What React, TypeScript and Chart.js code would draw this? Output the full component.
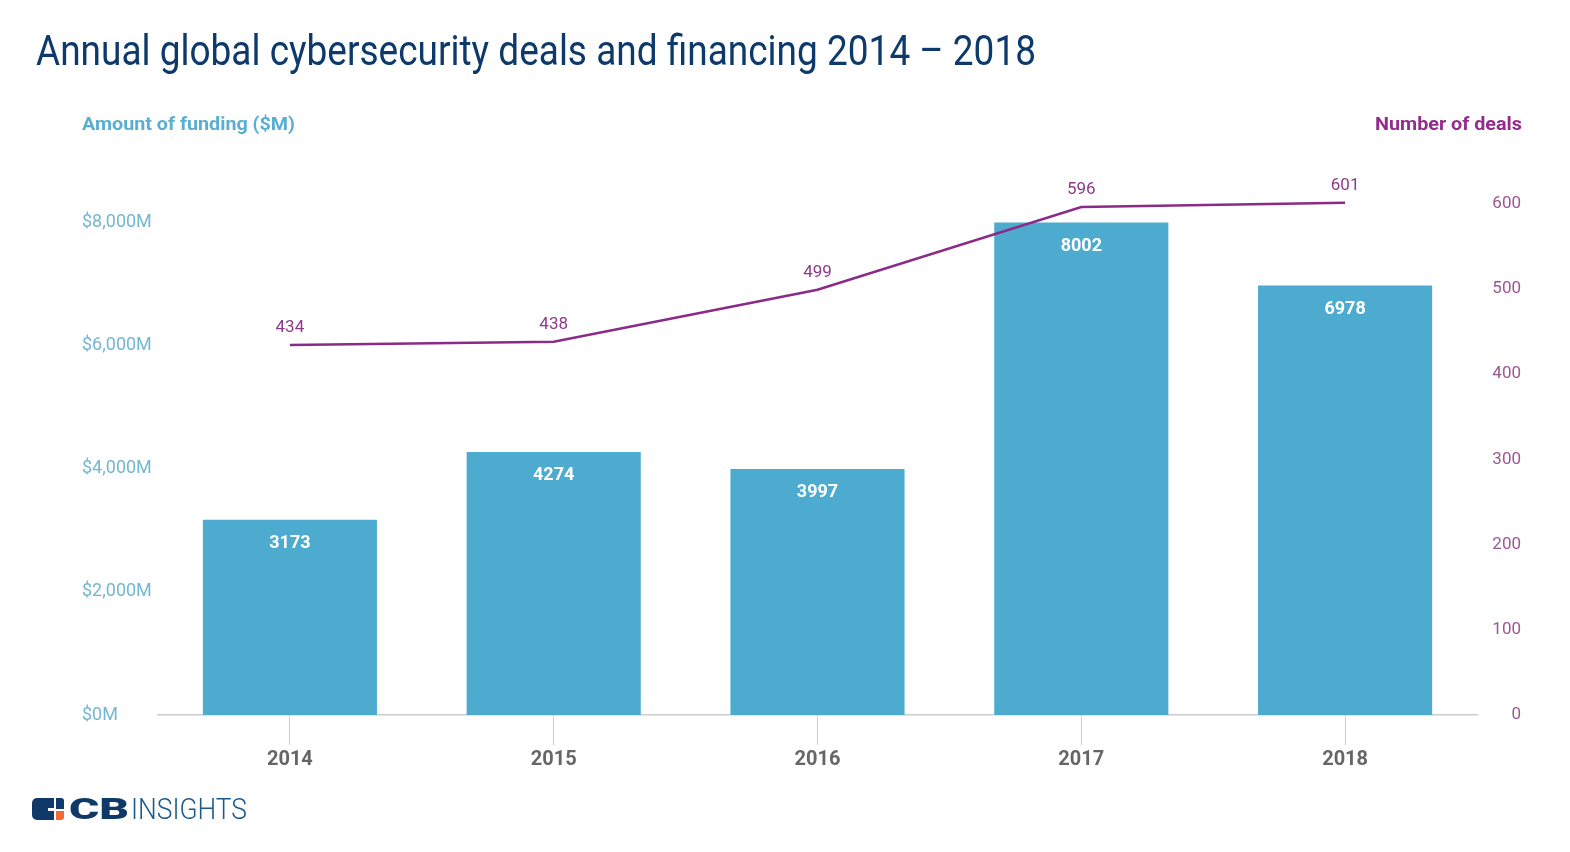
import React, { useEffect, useLayoutEffect, useRef } from "react";
import Chart from "chart.js/auto";

const years = ["2014", "2015", "2016", "2017", "2018"];
const funding = [3173, 4274, 3997, 8002, 6978];
const deals = [434, 438, 499, 596, 601];
const fundingTicks = [0, 2000, 4000, 6000, 8000];
const dealTicks = [0, 100, 200, 300, 400, 500, 600];

const BAR_COLOR = "#4dabcf";
const LINE_COLOR = "#8b2a87";

function fmtMoney(v: number): string {
  return "$" + String(v).replace(/\B(?=(\d{3})+(?!\d))/g, ",") + "M";
}

function FitText(props: { text: string; width: number; style: React.CSSProperties }) {
  const ref = useRef<HTMLSpanElement | null>(null);
  useLayoutEffect(() => {
    const el = ref.current;
    if (!el) return;
    el.style.transform = "none";
    const w = el.getBoundingClientRect().width;
    if (w > 0) el.style.transform = `scaleX(${props.width / w})`;
  }, []);
  return (
    <span
      ref={ref}
      style={{ display: "inline-block", whiteSpace: "nowrap", transformOrigin: "left top", ...props.style }}
    >
      {props.text}
    </span>
  );
}

const labelPlugin = {
  id: "valueLabels",
  afterDatasetsDraw(chart: any) {
    const ctx = chart.ctx;
    ctx.save();
    ctx.textAlign = "center";
    ctx.textBaseline = "middle";
    const barMeta = chart.getDatasetMeta(0);
    ctx.font = "bold 18px Roboto";
    ctx.fillStyle = "#ffffff";
    barMeta.data.forEach((el: any, i: number) => {
      ctx.fillText(String(funding[i]), el.x, el.y + 24);
    });
    const lineMeta = chart.getDatasetMeta(1);
    ctx.font = "17px Roboto";
    ctx.fillStyle = "#8d3a88";
    lineMeta.data.forEach((el: any, i: number) => {
      ctx.fillText(String(deals[i]), el.x, el.y - 17);
    });
    ctx.restore();
  },
};

export default function App() {
  const canvasRef = useRef<HTMLCanvasElement | null>(null);

  useEffect(() => {
    document.body.style.margin = "0";
    const canvas = canvasRef.current;
    if (!canvas) return;
    Chart.defaults.font.family = "Roboto";
    const chart = new Chart(canvas, {
      type: "bar",
      data: {
        labels: years,
        datasets: [
          {
            type: "bar",
            label: "Amount of funding ($M)",
            data: funding,
            backgroundColor: BAR_COLOR,
            borderWidth: 0,
            barPercentage: 0.66,
            categoryPercentage: 1,
            yAxisID: "y",
            order: 1,
          },
          {
            type: "line",
            label: "Number of deals",
            data: deals,
            borderColor: LINE_COLOR,
            borderWidth: 2.5,
            pointRadius: 0,
            pointHoverRadius: 0,
            tension: 0,
            fill: false,
            yAxisID: "y1",
            order: 0,
          },
        ],
      },
      options: {
        responsive: false,
        animation: false,
        devicePixelRatio: 1,
        layout: { padding: { left: 82, right: 49, top: 161, bottom: 77 } },
        plugins: {
          legend: { display: false },
          tooltip: { enabled: false },
          title: { display: false },
        },
        scales: {
          x: {
            offset: true,
            grid: {
              display: true,
              offset: false,
              drawOnChartArea: false,
              drawTicks: true,
              tickLength: 30,
              color: "#cccccc",
              lineWidth: 1,
            },
            border: { display: true, color: "#cccccc", width: 1.5 },
            ticks: {
              color: "#666666",
              padding: 3,
              font: { size: 20, weight: "bold", family: "Roboto" },
            },
            afterFit: (scale: any) => {
              scale.height = 60;
            },
          },
          y: {
            position: "left",
            min: 0,
            max: 9000,
            grid: { display: false },
            border: { display: false },
            afterBuildTicks: (axis: any) => {
              axis.ticks = fundingTicks.map((v) => ({ value: v }));
            },
            ticks: {
              crossAlign: "far",
              color: "#74b7d3",
              font: { size: 18, family: "Roboto" },
              callback: (v: any) => fmtMoney(Number(v)),
            },
            afterFit: (scale: any) => {
              scale.width = 76;
            },
          },
          y1: {
            position: "right",
            min: 0,
            max: 650,
            grid: { display: false },
            border: { display: false },
            afterBuildTicks: (axis: any) => {
              axis.ticks = dealTicks.map((v) => ({ value: v }));
            },
            ticks: {
              crossAlign: "far",
              color: "#9b5693",
              font: { size: 17, family: "Roboto" },
              callback: (v: any) => String(v),
            },
            afterFit: (scale: any) => {
              scale.width = 44;
            },
          },
        },
      },
      plugins: [labelPlugin],
    } as any);
    return () => chart.destroy();
  }, []);

  return (
    <div style={{ position: "relative", width: 1570, height: 852, background: "#ffffff", overflow: "hidden", fontFamily: "Roboto" }}>
      <canvas ref={canvasRef} width={1570} height={852} style={{ position: "absolute", left: 0, top: 0 }} />
      <div style={{ position: "absolute", left: 36, top: 29.6, fontSize: 42, lineHeight: "42px", color: "#0d3a6b" }}>
        <FitText text="Annual global cybersecurity deals and financing 2014 – 2018" width={1000} style={{}} />
      </div>
      <div style={{ position: "absolute", left: 82, top: 114.8, fontSize: 18, lineHeight: "18px", fontWeight: 700, color: "#5aaed1" }}>
        <FitText text="Amount of funding ($M)" width={213} style={{}} />
      </div>
      <div style={{ position: "absolute", left: 1375, top: 114.8, fontSize: 18, lineHeight: "18px", fontWeight: 700, color: "#932c8c" }}>
        <FitText text="Number of deals" width={147} style={{}} />
      </div>
      {/* logo */}
      <div style={{ position: "absolute", left: 32, top: 798, width: 22, height: 22, background: "#0f3a68", borderRadius: "5px 0 0 5px" }} />
      <div style={{ position: "absolute", left: 48, top: 808, width: 6, height: 2.5, background: "#ffffff" }} />
      <div style={{ position: "absolute", left: 56, top: 798, width: 8, height: 11, background: "#0f3a68", borderRadius: "0 3px 0 0" }} />
      <div style={{ position: "absolute", left: 56, top: 811, width: 8, height: 9, background: "#f26a36", borderRadius: "0 0 3px 0" }} />
      <div style={{ position: "absolute", left: 69, top: 795, fontSize: 29, lineHeight: "29px", fontWeight: 900, color: "#0f3a68" }}>
        <FitText text="CB" width={60} style={{}} />
      </div>
      <div style={{ position: "absolute", left: 131, top: 795, fontSize: 29, lineHeight: "29px", fontWeight: 300, color: "#1b5a8c" }}>
        <FitText text="INSIGHTS" width={116} style={{}} />
      </div>
    </div>
  );
}
